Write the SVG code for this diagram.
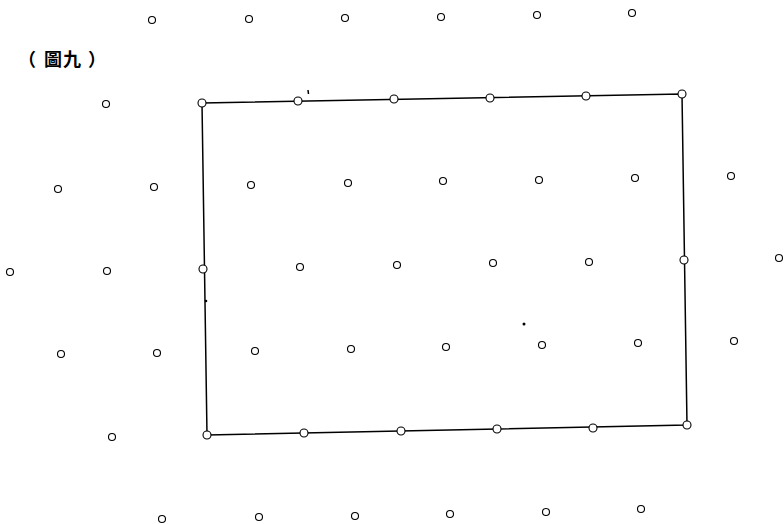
<svg xmlns="http://www.w3.org/2000/svg" width="784" height="524" viewBox="0 0 784 524">
<style>
.p{fill:#fff;stroke:#000;stroke-width:1.1}
.e{fill:none;stroke:#000;stroke-width:1.5}
.t{font-family:"Noto Sans CJK TC","Noto Sans CJK SC",sans-serif;font-size:18px;font-weight:bold;fill:#000}
</style>
<rect width="784" height="524" fill="#fff"/>
<text class="t" y="66"><tspan x="18">（</tspan><tspan x="44">圖</tspan><tspan x="63">九</tspan><tspan x="88">）</tspan></text>
<g id="connectors">
<polygon class="e" points="202,103 682,94 687,425 207,435"/>
<path d="M308,90 l0.5,4" stroke="#000" stroke-width="1.5"/>
<circle cx="206" cy="301" r="1.3" fill="#000"/>
<circle cx="524" cy="324" r="1.5" fill="#000"/>
</g>
<g id="row0">
<circle class="p" cx="152" cy="20" r="3.5"/><circle class="p" cx="249" cy="19" r="3.5"/><circle class="p" cx="345" cy="18" r="3.5"/><circle class="p" cx="441" cy="17" r="3.5"/><circle class="p" cx="537" cy="15" r="3.5"/><circle class="p" cx="632" cy="13" r="3.5"/>
</g>
<g id="row1">
<circle class="p" cx="106" cy="104" r="3.5"/><circle class="p" cx="202" cy="103" r="4"/><circle class="p" cx="298" cy="101" r="4"/><circle class="p" cx="394" cy="99" r="4"/><circle class="p" cx="490" cy="98" r="4"/><circle class="p" cx="586" cy="96" r="4"/><circle class="p" cx="682" cy="94" r="4"/>
</g>
<g id="row2">
<circle class="p" cx="58" cy="189" r="3.5"/><circle class="p" cx="154" cy="187" r="3.5"/><circle class="p" cx="251" cy="185" r="3.5"/><circle class="p" cx="348" cy="183" r="3.5"/><circle class="p" cx="443" cy="181" r="3.5"/><circle class="p" cx="539" cy="180" r="3.5"/><circle class="p" cx="635" cy="178" r="3.5"/><circle class="p" cx="731" cy="176" r="3.5"/>
</g>
<g id="row3">
<circle class="p" cx="10" cy="272" r="3.5"/><circle class="p" cx="107" cy="271" r="3.5"/><circle class="p" cx="203" cy="269" r="4"/><circle class="p" cx="300" cy="267" r="3.5"/><circle class="p" cx="397" cy="265" r="3.5"/><circle class="p" cx="493" cy="263" r="3.5"/><circle class="p" cx="589" cy="262" r="3.5"/><circle class="p" cx="684" cy="260" r="4"/><circle class="p" cx="779" cy="258" r="3.5"/>
</g>
<g id="row4">
<circle class="p" cx="61" cy="354" r="3.5"/><circle class="p" cx="157" cy="353" r="3.5"/><circle class="p" cx="255" cy="351" r="3.5"/><circle class="p" cx="351" cy="349" r="3.5"/><circle class="p" cx="446" cy="347" r="3.5"/><circle class="p" cx="542" cy="345" r="3.5"/><circle class="p" cx="638" cy="343" r="3.5"/><circle class="p" cx="734" cy="341" r="3.5"/>
</g>
<g id="row5">
<circle class="p" cx="112" cy="437" r="3.5"/><circle class="p" cx="207" cy="435" r="4"/><circle class="p" cx="304" cy="433" r="4"/><circle class="p" cx="401" cy="431" r="4"/><circle class="p" cx="497" cy="429" r="4"/><circle class="p" cx="593" cy="428" r="4"/><circle class="p" cx="687" cy="425" r="4"/>
</g>
<g id="row6">
<circle class="p" cx="162" cy="519" r="3.5"/><circle class="p" cx="259" cy="517" r="3.5"/><circle class="p" cx="355" cy="516" r="3.5"/><circle class="p" cx="450" cy="514" r="3.5"/><circle class="p" cx="546" cy="512" r="3.5"/><circle class="p" cx="641" cy="509" r="3.5"/>
</g>
</svg>
